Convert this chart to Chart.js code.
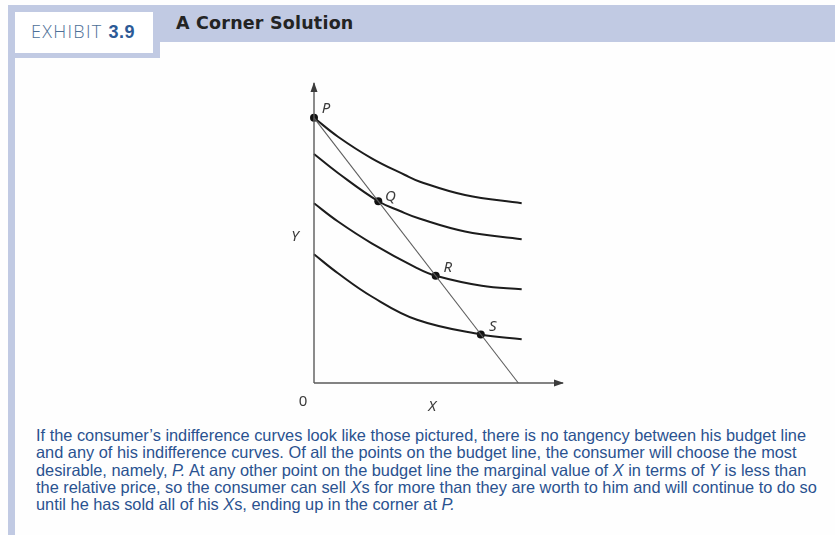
<!DOCTYPE html>
<html>
<head>
<meta charset="utf-8">
<title>A Corner Solution</title>
<script src="https://cdn.jsdelivr.net/npm/chart.js@4.4.1/dist/chart.umd.min.js"></script>
<style>
  html, body { margin: 0; padding: 0; background: #ffffff; }
  #page { position: relative; width: 835px; height: 535px; overflow: hidden; background: #fefefe; }
  .band { position: absolute; background: #c1cae3; }
  #tabBox { position: absolute; left: 15px; top: 12px; width: 138px; height: 41px; background: #ffffff; }
  #exhibit { position: absolute; left: 31px; top: 19px; font-family: "Open Sans", "Liberation Sans", sans-serif;
             font-size: 18px; font-weight: 300; letter-spacing: 1.3px; color: #4d6f97; line-height: 24px; white-space: nowrap; }
  #exhibit b { font-family: "Liberation Sans", Arial, sans-serif; font-weight: 700; color: #2c5a96; letter-spacing: 0.5px; }
  #title { position: absolute; left: 176px; top: 11px; font-family: "DejaVu Sans", sans-serif; font-weight: 700;
           font-size: 17.5px; letter-spacing: 0.2px; color: #242424; line-height: 24px; white-space: nowrap; }
  #caption { position: absolute; left: 36px; top: 427px; font-family: "Liberation Sans", Arial, sans-serif;
             font-size: 16.5px; line-height: 17.3px; color: #2a5290; transform-origin: 0 0; }
  #caption div { white-space: nowrap; }
  #chart { position: absolute; left: 0; top: 0; }
</style>
</head>
<body>
<div id="page">
  <div class="band" style="left:8px; top:5px; width:827px; height:37px;"></div>
  <div class="band" style="left:8px; top:5px; width:152px; height:53px;"></div>
  <div class="band" style="left:8px; top:5px; width:7px; height:530px;"></div>
  <div id="tabBox"></div>
  <div id="exhibit">EXHIBIT <b>3.9</b></div>
  <div id="title">A Corner Solution</div>
  <div id="caption">
    <div>If the consumer’s indifference curves look like those pictured, there is no tangency between his budget line</div>
    <div>and any of his indifference curves. Of all the points on the budget line, the consumer will choose the most</div>
    <div>desirable, namely, <i>P.</i> At any other point on the budget line the marginal value of <i>X</i> in terms of <i>Y</i> is less than</div>
    <div>the relative price, so the consumer can sell <i>X</i>s for more than they are worth to him and will continue to do so</div>
    <div>until he has sold all of his <i>X</i>s, ending up in the corner at <i>P.</i></div>
  </div>
  <canvas id="chart" width="835" height="535"></canvas>
</div>
<script>
// Indifference curves, highest (through P) to lowest (through S)
const curve1X = [0, 9.64, 23.17, 36.55, 42.57, 60.64, 83.41];
const curve1Y = [88.4, 82.1, 74.9, 69.33, 67.1, 62.67, 59.9];
const curve2X = [0, 9.64, 25.82, 34.54, 42.57, 60.64, 83.41];
const curve2Y = [76.33, 70.0, 60.58, 57.33, 54.73, 50.5, 47.9];
const curve3X = [0, 9.64, 23.17, 41.37, 48.88, 67.35, 83.41];
const curve3Y = [59.9, 53.83, 46.57, 38.3, 35.74, 32.4, 31.27];
const curve4X = [0, 9.64, 23.17, 41.37, 67.0, 83.41];
const curve4Y = [42.9, 36.57, 28.83, 21.07, 16.2, 14.57];

// Budget line, from the Y intercept to the X intercept
const budgetX = [0, 82.05];
const budgetY = [88.4, 0];

// Named points on the budget line
const pointNames = ['P', 'Q', 'R', 'S'];
const pointX = [0, 25.82, 48.88, 67.0];
const pointY = [88.4, 60.58, 35.74, 16.2];
// Where each name sits relative to its dot (pixels)
const nameOffsets = [[12, -9], [12, -5], [12, -8], [12, -8]];

// Axis extents
const axisMaxX = 100;
const axisMaxY = 100;

const zip = (xs, ys) => xs.map((x, i) => ({ x: x, y: ys[i] }));

const curveStyle = {
  borderColor: '#1c1c1c',
  borderWidth: 2,
  pointRadius: 0,
  tension: 0.4,
  fill: false,
  clip: false
};

// Arrowheads on both axes plus the point and axis names
const annotate = {
  id: 'annotate',
  afterDatasetsDraw(chart) {
    const ctx = chart.ctx;
    const xs = chart.scales.x, ys = chart.scales.y;
    const x0 = xs.getPixelForValue(0), y0 = ys.getPixelForValue(0);
    const xEnd = xs.getPixelForValue(axisMaxX), yEnd = ys.getPixelForValue(axisMaxY);
    ctx.save();
    ctx.fillStyle = '#3c3c3c';
    ctx.beginPath();
    ctx.moveTo(x0, yEnd - 1);
    ctx.lineTo(x0 - 3.5, yEnd + 9);
    ctx.lineTo(x0 + 3.5, yEnd + 9);
    ctx.closePath();
    ctx.fill();
    ctx.beginPath();
    ctx.moveTo(xEnd + 1, y0);
    ctx.lineTo(xEnd - 9, y0 - 3.5);
    ctx.lineTo(xEnd - 9, y0 + 3.5);
    ctx.closePath();
    ctx.fill();

    ctx.fillStyle = '#3a3a3a';
    ctx.textAlign = 'center';
    ctx.textBaseline = 'middle';
    ctx.font = 'italic 15px "Noto Sans", "Open Sans", sans-serif';
    const meta = chart.getDatasetMeta(chart.data.datasets.length - 1);
    meta.data.forEach((el, i) => {
      ctx.fillText(pointNames[i], el.x + nameOffsets[i][0], el.y + nameOffsets[i][1]);
    });
    ctx.fillText('Y', x0 - 19, ys.getPixelForValue(48.8));
    ctx.fillText('X', xs.getPixelForValue(47.5), y0 + 24);
    ctx.font = '15px "Noto Sans", "Open Sans", sans-serif';
    ctx.fillText('0', x0 - 11, y0 + 19);
    ctx.restore();
  }
};

new Chart(document.getElementById('chart'), {
  type: 'line',
  data: {
    datasets: [
      { data: zip([0, 0], [0, axisMaxY]), borderColor: '#5a5a5a', borderWidth: 1.4, pointRadius: 0, clip: false },
      { data: zip([0, axisMaxX], [0, 0]), borderColor: '#5a5a5a', borderWidth: 1.4, pointRadius: 0, clip: false },
      { data: zip(budgetX, budgetY), borderColor: '#5e5e5e', borderWidth: 1.1, pointRadius: 0, clip: false },
      Object.assign({ data: zip(curve1X, curve1Y) }, curveStyle),
      Object.assign({ data: zip(curve2X, curve2Y) }, curveStyle),
      Object.assign({ data: zip(curve3X, curve3Y) }, curveStyle),
      Object.assign({ data: zip(curve4X, curve4Y) }, curveStyle),
      { data: zip(pointX, pointY), showLine: false, pointRadius: 4, pointBackgroundColor: '#111111',
        pointBorderColor: '#111111', pointBorderWidth: 0, clip: false }
    ]
  },
  options: {
    responsive: false,
    animation: false,
    devicePixelRatio: 1,
    layout: { padding: { left: 314, right: 272, top: 83, bottom: 152 } },
    plugins: { legend: { display: false }, tooltip: { enabled: false } },
    scales: {
      x: { type: 'linear', min: 0, max: axisMaxX, display: false },
      y: { type: 'linear', min: 0, max: axisMaxY, display: false }
    },
    events: []
  },
  plugins: [annotate]
});

// Fit the caption lines to the text column width
(function () {
  const cap = document.getElementById('caption');
  const first = cap.firstElementChild;
  const range = document.createRange();
  range.selectNodeContents(first);
  const w = range.getBoundingClientRect().width;
  if (w > 0) cap.style.transform = 'scaleX(' + (770 / w) + ')';
})();
</script>
</body>
</html>
